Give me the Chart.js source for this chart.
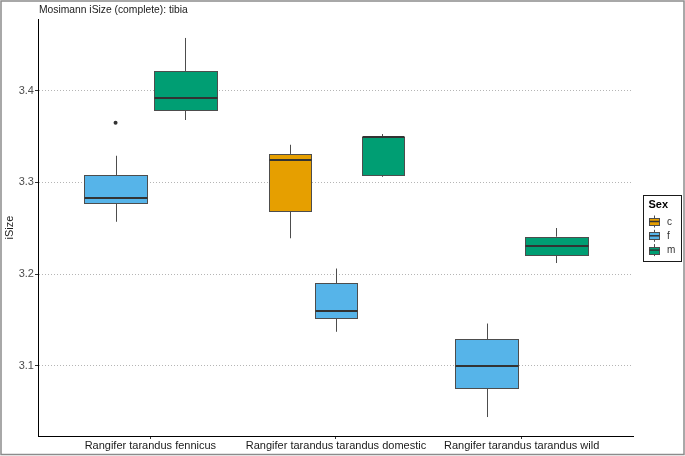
<!DOCTYPE html>
<html>
<head>
<meta charset="utf-8">
<script src="https://cdn.jsdelivr.net/npm/chart.js@4.4.1/dist/chart.umd.min.js"></script>
<style>
  html, body { margin: 0; padding: 0; background: #fff; }
  #wrap { position: relative; width: 685px; height: 456px; }
</style>
</head>
<body>
<div id="wrap"><canvas id="chart" width="685" height="456"></canvas></div>
<script>
/* =========================
   DATA
========================= */
const categories = [
  "Rangifer tarandus fennicus",
  "Rangifer tarandus tarandus domestic",
  "Rangifer tarandus tarandus wild"
];
const sexes = ["c", "f", "m"];

// one box per category: [lower whisker, q1, median, q3, upper whisker]
const boxesC = [null, [3.239, 3.269, 3.324, 3.331, 3.341], null];
const boxesF = [
  [3.257, 3.277, 3.283, 3.308, 3.329],
  [3.137, 3.152, 3.160, 3.190, 3.206],
  [3.044, 3.076, 3.100, 3.129, 3.146]
];
const boxesM = [
  [3.368, 3.379, 3.392, 3.4215, 3.4575],
  [3.306, 3.309, 3.3498, 3.350, 3.3527],
  [3.212, 3.221, 3.231, 3.2407, 3.2502]
];
const outliersF = [[3.365], [], []];
const yTicks = [3.1, 3.2, 3.3, 3.4];

/* =========================
   STYLE
========================= */
const FONT = "'Liberation Sans', Arial, sans-serif";
const sexColors = { c: "#E69F00", f: "#56B4E9", m: "#009E73" };
const boxesBySex = { c: boxesC, f: boxesF, m: boxesM };
const DODGE = 0.75;

Chart.defaults.font.family = FONT;

/* =========================
   DODGE HELPERS
========================= */
function boxSlot(sex, i) {
  const present = sexes.filter(s => boxesBySex[s][i]);
  const n = present.length;
  const j = present.indexOf(sex);
  const step = DODGE / n;
  return { center: i + 1 + (j - (n - 1) / 2) * step, half: step * 0.9 / 2 };
}

// ggplot style limits: data range +/- 5%
const allVals = [];
sexes.forEach(s => boxesBySex[s].forEach(b => { if (b) allVals.push(b[0], b[4]); }));
outliersF.forEach(o => o.forEach(v => allVals.push(v)));
const vMin = Math.min(...allVals), vMax = Math.max(...allVals);
const yMin = vMin - (vMax - vMin) * 0.05;
const yMax = vMax + (vMax - vMin) * 0.05;

const outlierPoints = [];
outliersF.forEach((list, i) => {
  list.forEach(v => outlierPoints.push({ x: boxSlot("f", i).center, y: v }));
});

/* =========================
   BOXPLOT PLUGIN
========================= */
const crisp = v => Math.round(v) + 0.5;

const boxplotPlugin = {
  id: "boxplot",
  beforeDatasetsDraw(chart) {
    const { ctx, scales: { x, y } } = chart;
    ctx.save();
    sexes.forEach(s => {
      boxesBySex[s].forEach((b, i) => {
        if (!b) return;
        const slot = boxSlot(s, i);
        const cx = crisp(x.getPixelForValue(slot.center));
        const x0 = x.getPixelForValue(slot.center - slot.half);
        const x1 = x.getPixelForValue(slot.center + slot.half);
        const [lo, q1, med, q3, hi] = b.map(v => y.getPixelForValue(v));

        // whiskers
        ctx.strokeStyle = "#4d4d4d";
        ctx.lineWidth = 1;
        ctx.beginPath();
        ctx.moveTo(cx, lo); ctx.lineTo(cx, q1);
        ctx.moveTo(cx, q3); ctx.lineTo(cx, hi);
        ctx.stroke();

        // box
        const bx = crisp(x0), bw = Math.round(x1 - x0);
        const by = crisp(q3), bh = Math.round(q1 - q3);
        ctx.fillStyle = sexColors[s];
        ctx.fillRect(bx, by, bw, bh);
        ctx.strokeStyle = "#4d4d4d";
        ctx.strokeRect(bx, by, bw, bh);

        // median
        ctx.strokeStyle = "#333333";
        ctx.lineWidth = 2;
        ctx.beginPath();
        ctx.moveTo(bx, Math.round(med));
        ctx.lineTo(bx + bw, Math.round(med));
        ctx.stroke();
      });
    });
    ctx.restore();
  },
  afterDraw(chart) {
    const { ctx, chartArea: a } = chart;
    ctx.save();

    // outer frame
    ctx.strokeStyle = "#8c8c8c";
    ctx.lineWidth = 1.5;
    ctx.strokeRect(1, 1, 683, 453.5);

    // title
    ctx.fillStyle = "#1a1a1a";
    ctx.font = "10.3px " + FONT;
    ctx.textBaseline = "middle";
    ctx.textAlign = "left";
    ctx.fillText("Mosimann iSize (complete): tibia", a.left, 10);

    // legend
    const lw = 38, lh = 66;
    const lx = a.right + 10;
    const ly = (a.top + a.bottom) / 2 - lh / 2;
    ctx.strokeStyle = "#1a1a1a";
    ctx.lineWidth = 1;
    ctx.strokeRect(Math.round(lx) + 0.5, Math.round(ly) + 0.5, lw, lh);
    ctx.font = "bold 11px " + FONT;
    ctx.fillStyle = "#000";
    ctx.fillText("Sex", lx + 5.5, ly + 10.5);

    ctx.font = "10px " + FONT;
    sexes.forEach((s, k) => {
      const cy = ly + 27 + k * 14.3;
      const ix = Math.round(lx + 6) + 0.5;
      const icx = ix + 5;
      ctx.strokeStyle = "#4d4d4d";
      ctx.lineWidth = 1;
      ctx.beginPath();
      ctx.moveTo(icx, cy - 6); ctx.lineTo(icx, cy + 6);
      ctx.stroke();
      ctx.fillStyle = sexColors[s];
      ctx.fillRect(ix, Math.round(cy - 3.5) + 0.5, 10, 7);
      ctx.strokeRect(ix, Math.round(cy - 3.5) + 0.5, 10, 7);
      ctx.strokeStyle = "#333";
      ctx.lineWidth = 1.5;
      ctx.beginPath();
      ctx.moveTo(ix, cy); ctx.lineTo(ix + 10, cy);
      ctx.stroke();
      ctx.fillStyle = "#333";
      ctx.fillText(s, lx + 24, cy + 0.5);
    });
    ctx.restore();
  }
};

/* =========================
   CHART
========================= */
new Chart(document.getElementById("chart"), {
  type: "scatter",
  data: {
    datasets: [{
      label: "outliers",
      data: outlierPoints,
      pointRadius: 2,
      pointHoverRadius: 2,
      backgroundColor: "#333333",
      borderWidth: 0
    }]
  },
  options: {
    responsive: false,
    animation: false,
    layout: { padding: { left: 1, top: 19, right: 52, bottom: 3.8 } },
    plugins: {
      legend: { display: false },
      tooltip: { enabled: false }
    },
    scales: {
      x: {
        type: "linear",
        min: 0.4,
        max: 3.6,
        afterBuildTicks: s => { s.ticks = categories.map((_, i) => ({ value: i + 1 })); },
        ticks: {
          callback: v => categories[v - 1],
          font: { size: 11 },
          color: "#1a1a1a",
          padding: 0,
          maxRotation: 0,
          autoSkip: false
        },
        grid: { display: true, drawOnChartArea: false, tickLength: 3, tickColor: "#333" },
        border: { display: true, color: "#000", width: 1 }
      },
      y: {
        min: yMin,
        max: yMax,
        afterBuildTicks: s => { s.ticks = yTicks.map(v => ({ value: v })); },
        ticks: {
          callback: v => v.toFixed(1),
          font: { size: 11 },
          color: "#4d4d4d",
          padding: 1
        },
        grid: { color: "#b5b5b5", tickColor: "#333", tickLength: 4, tickBorderDash: [] },
        border: { display: true, color: "#000", width: 1, dash: [1, 2] },
        title: {
          display: true,
          text: "iSize",
          font: { size: 11 },
          color: "#1a1a1a",
          padding: { top: 2, bottom: 1.5 }
        }
      }
    }
  },
  plugins: [boxplotPlugin]
});
</script>
</body>
</html>
